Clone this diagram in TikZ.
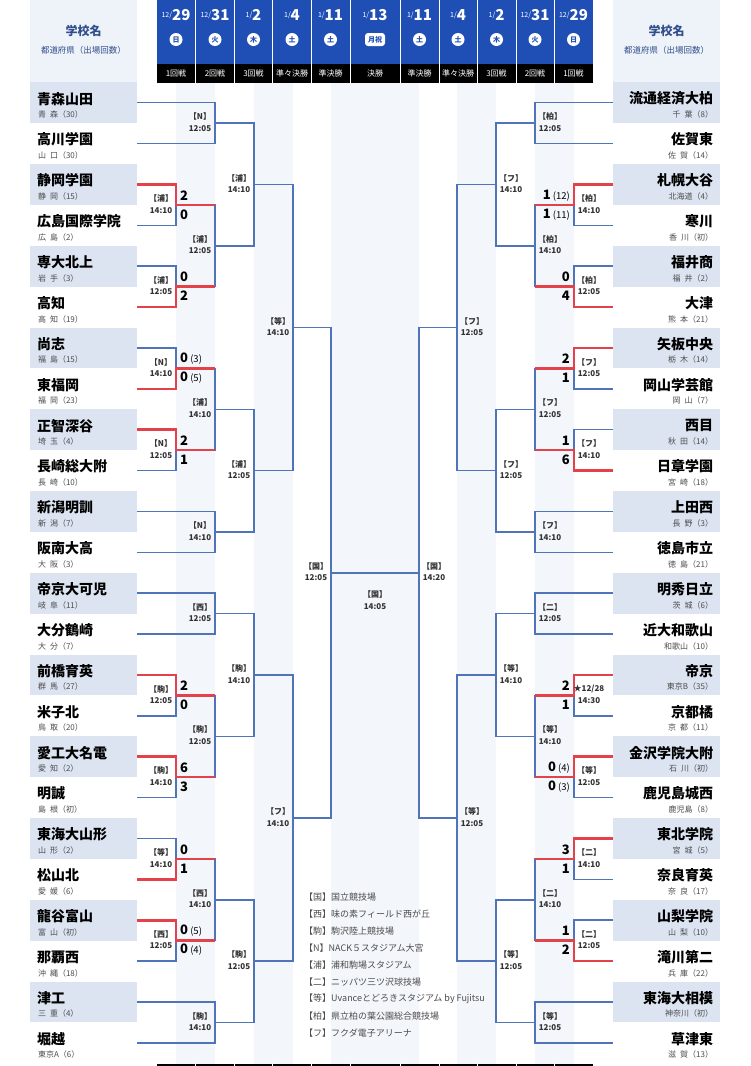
\documentclass[tikz,border=0pt]{standalone}
\usepackage{fontspec}
\setmainfont{Noto Sans CJK JP}
\newfontfamily\jph[CharacterWidth=AlternateHalf]{Noto Sans CJK JP}
\usetikzlibrary{calc}
\definecolor{hdrblue}{HTML}{1F4FB4}
\definecolor{lnblue}{HTML}{5074BA}
\definecolor{lnred}{HTML}{E4424B}
\definecolor{stripecol}{HTML}{F3F6FB}
\definecolor{teamshade}{HTML}{DCE4F1}
\definecolor{titlebg}{HTML}{EEF2F9}
\definecolor{titletxt}{HTML}{2F4E8C}
\tikzset{
 bl/.style={draw=lnblue, line width=1.6pt},
 rd/.style={draw=lnred, line width=2.6pt},
 tname/.style={font=\fontsize{14}{14}\selectfont\bfseries, inner sep=0},
 tpref/.style={font=\fontsize{8}{8}\selectfont, text=black!70, inner sep=0},
 venue/.style={font=\fontsize{8}{11.5}\selectfont\bfseries, text=black!80, inner sep=0, align=center},
 score/.style={font=\fontsize{13}{13}\selectfont\bfseries, inner sep=0},
 teambox/.style={minimum width=107pt, minimum height=40.875pt, inner sep=0},
 legend/.style={font=\fontsize{9}{9}\selectfont, text=black!70, inner sep=0, anchor=west},
}
\newcommand\mybrk[3]{\draw[bl] (#1) -| (#2) |- (#3);}
\newcommand\mywin[3]{\draw[rd] (#1) -| (#2) -- (#2 -| #3);}
\newcommand\ven[2]{{\jph【#1】}\\#2}
\newcommand\vlL[2]{\node[venue] at ($(#1)+(-15,-1)$) {#2};}
\newcommand\vlR[2]{\node[venue] at ($(#1)+(15,-1)$) {#2};}
\newcommand\pk[2]{#1\,{\fontsize{9.5}{10}\selectfont\mdseries(#2)}}
\newcommand\scL[3]{\node[score,anchor=west] at ($(#1)+(4,-9.5)$) {#2}; \node[score,anchor=west] at ($(#1)+(4,9.5)$) {#3};}
\newcommand\scR[3]{\node[score,anchor=east] at ($(#1)+(-4,-9.5)$) {#2}; \node[score,anchor=east] at ($(#1)+(-4,9.5)$) {#3};}
\begin{document}
\begin{tikzpicture}[x=1pt,y=-1pt]
\useasboundingbox (0,0) rectangle (750,1066);
\fill[white] (0,0) rectangle (750,1066);
% stripes
\foreach \a/\b in {176/215,254/293,331/419,457/496,535/574} \fill[stripecol] (\a,83) rectangle (\b,1066);
% title blocks
\fill[titlebg] (30,0) rectangle (137,82.25);
\fill[titlebg] (613,0) rectangle (720,82.25);
\foreach \x/\n in {83.5/L,666.5/R} {
 \node[font=\fontsize{12}{12}\selectfont\bfseries, text=titletxt] (ttl\n) at (\x,31) {学校名};
 \node[font=\fontsize{8.5}{9}\selectfont, text=titletxt] (sub\n) at (\x,50) {都道府県（出場回数）};
}
% header
\fill[hdrblue] (157,0) rectangle (593,63.5);
\fill[black] (157,63.5) rectangle (593,83);
\fill[black] (157,1063.5) rectangle (593,1066);
\foreach \x in {195.5,234,272.5,311,350,400,439,477.5,516,554.5} \draw[white, line width=1pt] (\x,0) -- (\x,83) (\x,1063) -- (\x,1066);
\foreach \x/\m/\d/\w/\r in {176/12/29/日/1回戦,215/12/31/火/2回戦,253.5/1/2/木/3回戦,292/1/4/土/準々決勝,330.5/1/11/土/準決勝,419.5/1/11/土/準決勝,458/1/4/土/準々決勝,496.5/1/2/木/3回戦,535/12/31/火/2回戦,573.5/12/29/日/1回戦} {
 \node[text=white, inner sep=0] at (\x,15) {\raisebox{3pt}{\fontsize{7}{7}\selectfont\m/}\fontsize{15}{15}\selectfont\bfseries\d};
 \fill[white] (\x,39.5) circle (6.5pt);
 \node[text=hdrblue, font=\fontsize{7}{7}\selectfont\bfseries, inner sep=0] at (\x,39.5) {\w};
 \node[text=white, font=\fontsize{8}{8}\selectfont, inner sep=0] at (\x,73) {\r};
}
\node[text=white, inner sep=0] at (375,15) {\raisebox{3pt}{\fontsize{7}{7}\selectfont 1/}\fontsize{15}{15}\selectfont\bfseries 13};
\fill[white, rounded corners=3pt] (365,33) rectangle (385,46);
\node[text=hdrblue, font=\fontsize{7}{7}\selectfont\bfseries, inner sep=0] at (375,39.5) {月祝};
\node[text=white, font=\fontsize{8}{8}\selectfont, inner sep=0] at (375,73) {決勝};
% team boxes
\foreach \i in {0,2,...,22} {
 \fill[teamshade] (30,{82.25+40.875*\i}) rectangle (137,{82.25+40.875*(\i+1)});
 \fill[teamshade] (613,{82.25+40.875*\i}) rectangle (720,{82.25+40.875*(\i+1)});
}
\foreach \i in {0,...,23} {
 \node[teambox] (L\i) at (83.5,{102.69+40.875*\i}) {};
 \node[teambox] (R\i) at (666.5,{102.69+40.875*\i}) {};
}
\foreach \i/\nm/\pf in {0/青森山田/青\enspace 森（30）,1/高川学園/山\enspace 口（30）,2/静岡学園/静\enspace 岡（15）,3/広島国際学院/広\enspace 島（2）,4/専大北上/岩\enspace 手（3）,5/高知/高\enspace 知（19）,6/尚志/福\enspace 島（15）,7/東福岡/福\enspace 岡（23）,8/正智深谷/埼\enspace 玉（4）,9/長崎総大附/長\enspace 崎（10）,10/新潟明訓/新\enspace 潟（7）,11/阪南大高/大\enspace 阪（3）,12/帝京大可児/岐\enspace 阜（11）,13/大分鶴崎/大\enspace 分（7）,14/前橋育英/群\enspace 馬（27）,15/米子北/鳥\enspace 取（20）,16/愛工大名電/愛\enspace 知（2）,17/明誠/島\enspace 根（初）,18/東海大山形/山\enspace 形（2）,19/松山北/愛\enspace 媛（6）,20/龍谷富山/富\enspace 山（初）,21/那覇西/沖\enspace 縄（18）,22/津工/三\enspace 重（4）,23/堀越/東京A（6）} {
 \node[tname, anchor=west] (LN\i) at ($(L\i.west)+(7,-4)$) {\nm};
 \node[tpref, anchor=west] (LP\i) at ($(L\i.west)+(8,12)$) {\pf};
}
\foreach \i/\nm/\pf in {0/流通経済大柏/千\enspace 葉（8）,1/佐賀東/佐\enspace 賀（14）,2/札幌大谷/北海道（4）,3/寒川/香\enspace 川（初）,4/福井商/福\enspace 井（2）,5/大津/熊\enspace 本（21）,6/矢板中央/栃\enspace 木（14）,7/岡山学芸館/岡\enspace 山（7）,8/西目/秋\enspace 田（14）,9/日章学園/宮\enspace 崎（18）,10/上田西/長\enspace 野（3）,11/徳島市立/徳\enspace 島（21）,12/明秀日立/茨\enspace 城（6）,13/近大和歌山/和歌山（10）,14/帝京/東京B（35）,15/京都橘/京\enspace 都（11）,16/金沢学院大附/石\enspace 川（初）,17/鹿児島城西/鹿児島（8）,18/東北学院/宮\enspace 城（5）,19/奈良育英/奈\enspace 良（17）,20/山梨学院/山\enspace 梨（10）,21/滝川第二/兵\enspace 庫（22）,22/東海大相模/神奈川（初）,23/草津東/滋\enspace 賀（13）} {
 \node[tname, anchor=east] (RN\i) at ($(R\i.east)+(-7,-4)$) {\nm};
 \node[tpref, anchor=east] (RP\i) at ($(R\i.east)+(-7,12)$) {\pf};
}
% joints left
\coordinate (LA1) at (215,123.1);
\coordinate (LA2) at (176,204.9);
\coordinate (LA3) at (176,286.6);
\coordinate (LA4) at (215,245.7);
\coordinate (LA5) at (254,184.4);
\coordinate (LB1) at (176,368.4);
\coordinate (LB2) at (176,450.1);
\coordinate (LB3) at (215,409.3);
\coordinate (LB4) at (215,531.9);
\coordinate (LB5) at (254,470.6);
\coordinate (LQ1) at (293,327.5);
\coordinate (LC1) at (215,613.6);
\coordinate (LC2) at (176,695.4);
\coordinate (LC3) at (176,777.1);
\coordinate (LC4) at (215,736.3);
\coordinate (LC5) at (254,674.9);
\coordinate (LD1) at (176,858.9);
\coordinate (LD2) at (176,940.6);
\coordinate (LD3) at (215,899.8);
\coordinate (LD4) at (215,1022.4);
\coordinate (LD5) at (254,961.1);
\coordinate (LQ2) at (293,818.0);
\coordinate (LS) at (331,572.8);
% joints right
\coordinate (RA1) at (535,123.1);
\coordinate (RA2) at (574,204.9);
\coordinate (RA3) at (574,286.6);
\coordinate (RA4) at (535,245.7);
\coordinate (RA5) at (496,184.4);
\coordinate (RB1) at (574,368.4);
\coordinate (RB2) at (574,450.1);
\coordinate (RB3) at (535,409.3);
\coordinate (RB4) at (535,531.9);
\coordinate (RB5) at (496,470.6);
\coordinate (RQ1) at (457,327.5);
\coordinate (RC1) at (535,613.6);
\coordinate (RC2) at (574,695.4);
\coordinate (RC3) at (574,777.1);
\coordinate (RC4) at (535,736.3);
\coordinate (RC5) at (496,674.9);
\coordinate (RD1) at (574,858.9);
\coordinate (RD2) at (574,940.6);
\coordinate (RD3) at (535,899.8);
\coordinate (RD4) at (535,1022.4);
\coordinate (RD5) at (496,961.1);
\coordinate (RQ2) at (457,818.0);
\coordinate (RS) at (419,572.8);
% left brackets
\mybrk{L0.east}{LA1}{L1.east}
\mybrk{L2.east}{LA2}{L3.east}
\mybrk{L4.east}{LA3}{L5.east}
\mybrk{LA2}{LA4}{LA3}
\mybrk{LA1}{LA5}{LA4}
\mybrk{L6.east}{LB1}{L7.east}
\mybrk{L8.east}{LB2}{L9.east}
\mybrk{LB1}{LB3}{LB2}
\mybrk{L10.east}{LB4}{L11.east}
\mybrk{LB3}{LB5}{LB4}
\mybrk{LA5}{LQ1}{LB5}
\mybrk{L12.east}{LC1}{L13.east}
\mybrk{L14.east}{LC2}{L15.east}
\mybrk{L16.east}{LC3}{L17.east}
\mybrk{LC2}{LC4}{LC3}
\mybrk{LC1}{LC5}{LC4}
\mybrk{L18.east}{LD1}{L19.east}
\mybrk{L20.east}{LD2}{L21.east}
\mybrk{LD1}{LD3}{LD2}
\mybrk{L22.east}{LD4}{L23.east}
\mybrk{LD3}{LD5}{LD4}
\mybrk{LC5}{LQ2}{LD5}
\mybrk{LQ1}{LS}{LQ2}
% right brackets
\mybrk{R0.west}{RA1}{R1.west}
\mybrk{R2.west}{RA2}{R3.west}
\mybrk{R4.west}{RA3}{R5.west}
\mybrk{RA2}{RA4}{RA3}
\mybrk{RA1}{RA5}{RA4}
\mybrk{R6.west}{RB1}{R7.west}
\mybrk{R8.west}{RB2}{R9.west}
\mybrk{RB1}{RB3}{RB2}
\mybrk{R10.west}{RB4}{R11.west}
\mybrk{RB3}{RB5}{RB4}
\mybrk{RA5}{RQ1}{RB5}
\mybrk{R12.west}{RC1}{R13.west}
\mybrk{R14.west}{RC2}{R15.west}
\mybrk{R16.west}{RC3}{R17.west}
\mybrk{RC2}{RC4}{RC3}
\mybrk{RC1}{RC5}{RC4}
\mybrk{R18.west}{RD1}{R19.west}
\mybrk{R20.west}{RD2}{R21.west}
\mybrk{RD1}{RD3}{RD2}
\mybrk{R22.west}{RD4}{R23.west}
\mybrk{RD3}{RD5}{RD4}
\mybrk{RC5}{RQ2}{RD5}
\mybrk{RQ1}{RS}{RQ2}
\draw[bl] (LS) -- (RS);
% winners
\mywin{L2.east}{LA2}{LA4}
\mywin{L5.east}{LA3}{LA4}
\mywin{L7.east}{LB1}{LB3}
\mywin{L8.east}{LB2}{LB3}
\mywin{L14.east}{LC2}{LC4}
\mywin{L16.east}{LC3}{LC4}
\mywin{L19.east}{LD1}{LD3}
\mywin{L20.east}{LD2}{LD3}
\mywin{R2.west}{RA2}{RA4}
\mywin{R5.west}{RA3}{RA4}
\mywin{R6.west}{RB1}{RB3}
\mywin{R9.west}{RB2}{RB3}
\mywin{R14.west}{RC2}{RC4}
\mywin{R16.west}{RC3}{RC4}
\mywin{R18.west}{RD1}{RD3}
\mywin{R21.west}{RD2}{RD3}
% venue labels left
\vlL{LA1}{\ven{N}{12:05}}
\vlL{LA2}{\ven{浦}{14:10}}
\vlL{LA3}{\ven{浦}{12:05}}
\vlL{LA4}{\ven{浦}{12:05}}
\vlL{LA5}{\ven{浦}{14:10}}
\vlL{LB1}{\ven{N}{14:10}}
\vlL{LB2}{\ven{N}{12:05}}
\vlL{LB3}{\ven{浦}{14:10}}
\vlL{LB4}{\ven{N}{14:10}}
\vlL{LB5}{\ven{浦}{12:05}}
\vlL{LQ1}{\ven{等}{14:10}}
\vlL{LC1}{\ven{西}{12:05}}
\vlL{LC2}{\ven{駒}{12:05}}
\vlL{LC3}{\ven{駒}{14:10}}
\vlL{LC4}{\ven{駒}{12:05}}
\vlL{LC5}{\ven{駒}{14:10}}
\vlL{LD1}{\ven{等}{14:10}}
\vlL{LD2}{\ven{西}{12:05}}
\vlL{LD3}{\ven{西}{14:10}}
\vlL{LD4}{\ven{駒}{14:10}}
\vlL{LD5}{\ven{駒}{12:05}}
\vlL{LQ2}{\ven{フ}{14:10}}
\vlL{LS}{\ven{国}{12:05}}
% venue labels right
\vlR{RA1}{\ven{柏}{12:05}}
\vlR{RA2}{\ven{柏}{14:10}}
\vlR{RA3}{\ven{柏}{12:05}}
\vlR{RA4}{\ven{柏}{14:10}}
\vlR{RA5}{\ven{フ}{14:10}}
\vlR{RB1}{\ven{フ}{12:05}}
\vlR{RB2}{\ven{フ}{14:10}}
\vlR{RB3}{\ven{フ}{12:05}}
\vlR{RB4}{\ven{フ}{14:10}}
\vlR{RB5}{\ven{フ}{12:05}}
\vlR{RQ1}{\ven{フ}{12:05}}
\vlR{RC1}{\ven{二}{12:05}}
\vlR{RC2}{★12/28\\14:30}
\vlR{RC3}{\ven{等}{12:05}}
\vlR{RC4}{\ven{等}{14:10}}
\vlR{RC5}{\ven{等}{14:10}}
\vlR{RD1}{\ven{二}{14:10}}
\vlR{RD2}{\ven{二}{12:05}}
\vlR{RD3}{\ven{二}{14:10}}
\vlR{RD4}{\ven{等}{12:05}}
\vlR{RD5}{\ven{等}{12:05}}
\vlR{RQ2}{\ven{等}{12:05}}
\vlR{RS}{\ven{国}{14:20}}
\node[venue] (finlbl) at (375,600) {\ven{国}{14:05}};
% scores
\scL{LA2}{2}{0}
\scL{LA3}{0}{2}
\scL{LB1}{\pk{0}{3}}{\pk{0}{5}}
\scL{LB2}{2}{1}
\scL{LC2}{2}{0}
\scL{LC3}{6}{3}
\scL{LD1}{0}{1}
\scL{LD2}{\pk{0}{5}}{\pk{0}{4}}
\scR{RA2}{\pk{1}{12}}{\pk{1}{11}}
\scR{RA3}{0}{4}
\scR{RB1}{2}{1}
\scR{RB2}{1}{6}
\scR{RC2}{2}{1}
\scR{RC3}{\pk{0}{4}}{\pk{0}{3}}
\scR{RD1}{3}{1}
\scR{RD2}{1}{2}
% legend
\foreach \k/\t in {0/【国】国立競技場,1/【西】味の素フィールド西が丘,2/【駒】駒沢陸上競技場,3/【N】NACK５スタジアム大宮,4/【浦】浦和駒場スタジアム,5/【二】ニッパツ三ツ沢球技場,6/【等】Uvanceとどろきスタジアム by Fujitsu,7/【柏】県立柏の葉公園総合競技場,8/【フ】フクダ電子アリーナ}
 \node[legend] (lg\k) at (304,{897+17*\k}) {\t};
\end{tikzpicture}
\end{document}
